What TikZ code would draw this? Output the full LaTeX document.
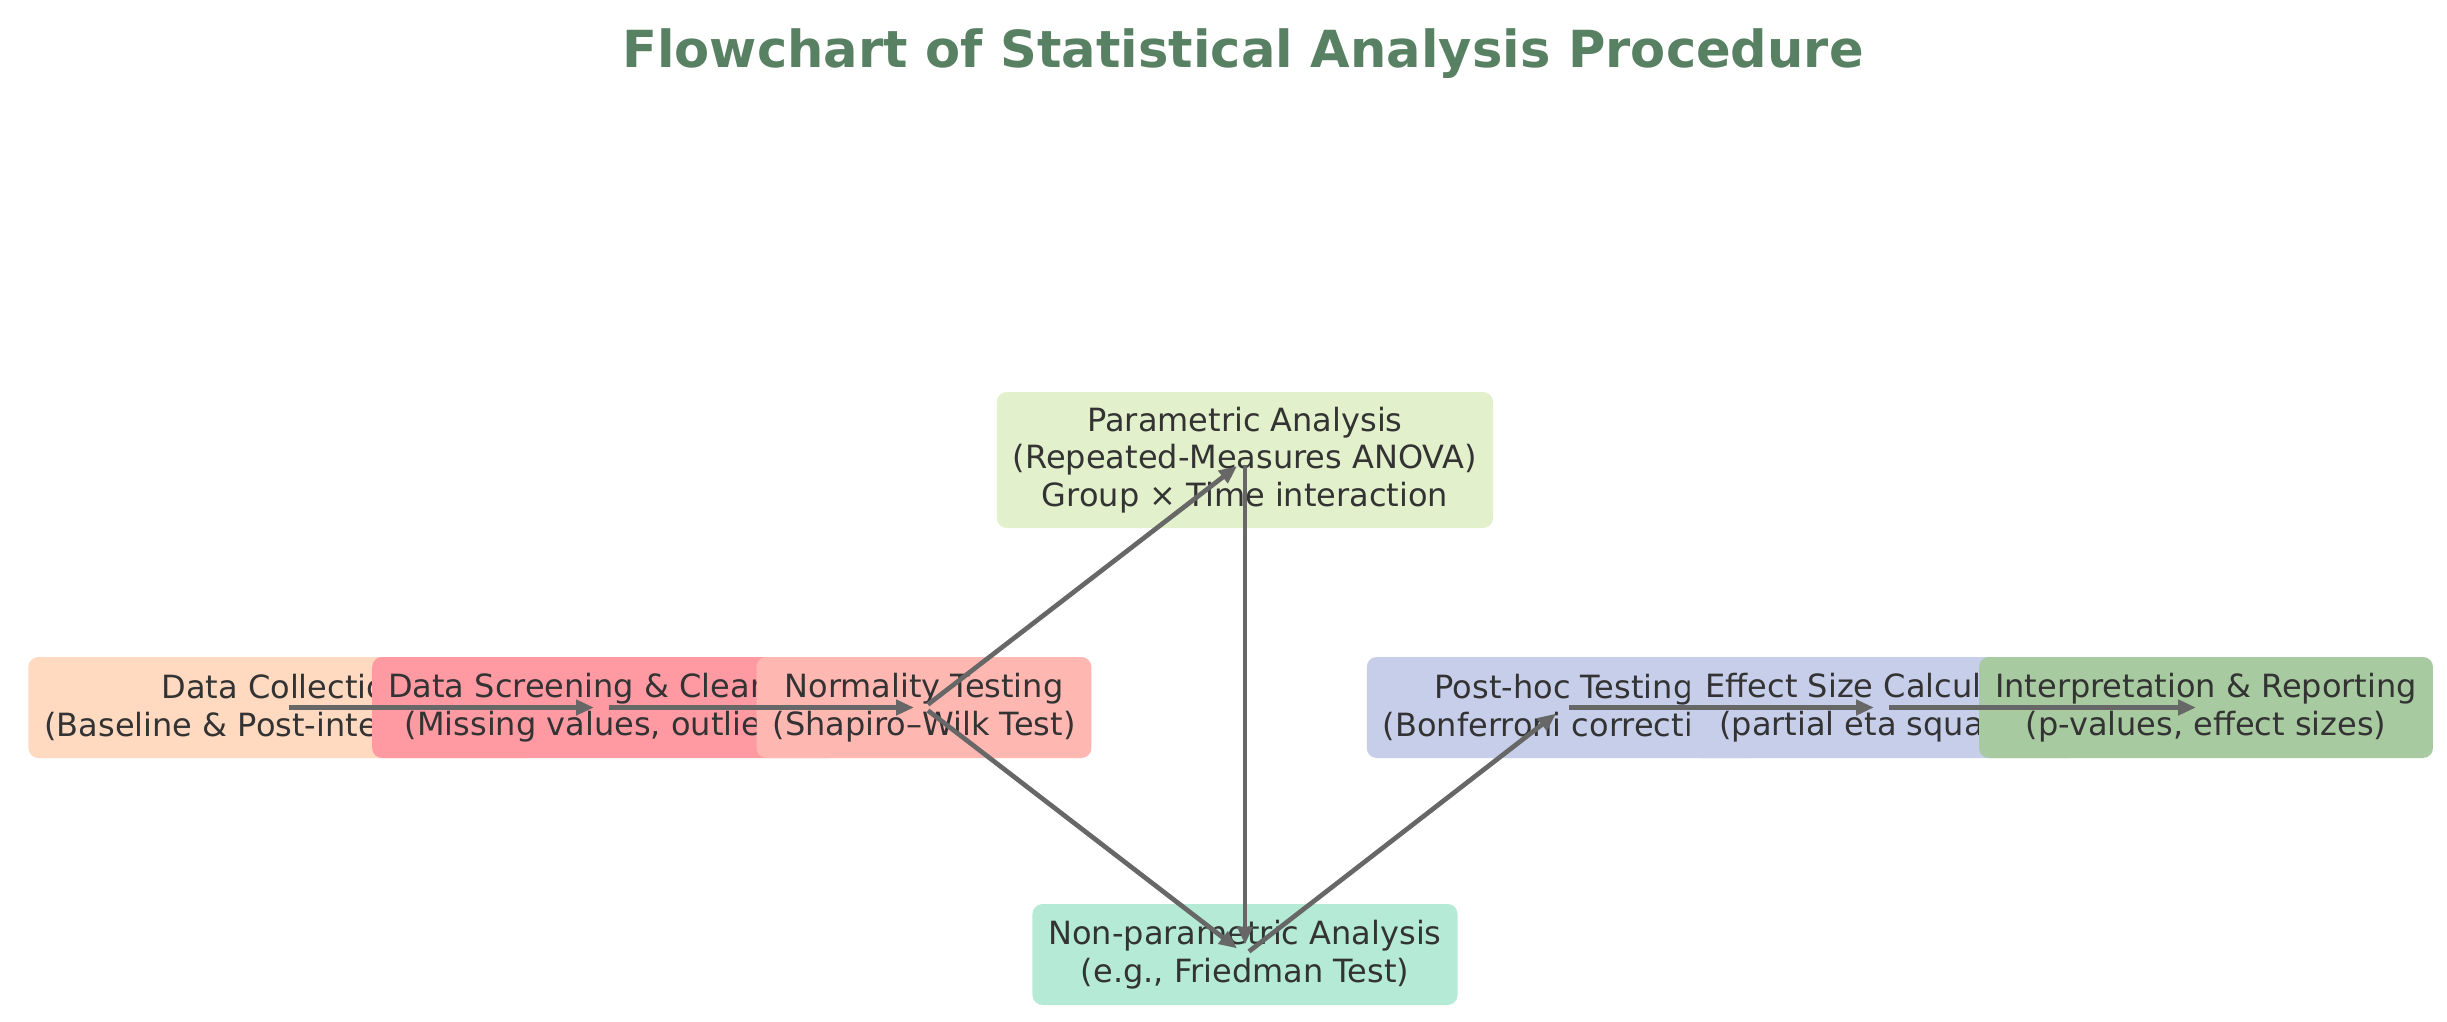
\documentclass[tikz,border=0pt]{standalone}
\usepackage{fontspec}
\setmainfont{DejaVu Sans}
\usetikzlibrary{arrows.meta}
\definecolor{cDC}{HTML}{FFDAC1}
\definecolor{cDS}{HTML}{FF9AA2}
\definecolor{cNT}{HTML}{FFB7B2}
\definecolor{cPA}{HTML}{E2F0CB}
\definecolor{cNP}{HTML}{B5EAD7}
\definecolor{cPH}{HTML}{C7CEEA}
\definecolor{cES}{HTML}{C7CEEA}
\definecolor{cIR}{HTML}{A8CAA0}
\definecolor{txtc}{HTML}{333333}
\definecolor{titlec}{HTML}{588062}
\definecolor{arrc}{HTML}{676767}
\begin{document}
\begin{tikzpicture}[x=0.5pt,y=-0.5pt,
  box/.style={rounded corners=5pt, inner xsep=8pt, inner ysep=0pt,
    minimum height=50.5pt, align=center, text=txtc,
    font=\fontsize{16}{18.75}\selectfont},
  arr/.style={draw=arrc, line width=2.35pt,
    -{Triangle[length=9pt,width=7.5pt]},
    shorten <=2.5pt, shorten >=5pt}]
\useasboundingbox (0,0) rectangle (2447,1022);
\fill[white] (0,0) rectangle (2447,1022);
\node[font=\fontsize{25.55}{30}\selectfont\bfseries, text=titlec, anchor=base, inner sep=0pt]
  (title) at (1243,68) {Flowchart of Statistical Analysis Procedure};
\node[box, fill=cDC] (dc) at (284,707.5) {Data Collection\\(Baseline \& Post-intervention)};
\node[box, fill=cDS] (ds) at (604,707.5) {Data Screening \& Cleaning\\(Missing values, outliers)};
\node[box, fill=cNT] (nt) at (924,707.5) {Normality Testing\\(Shapiro–Wilk Test)};
\node[box, fill=cPA, minimum height=68pt] (pa) at (1245,460) {Parametric Analysis\\(Repeated-Measures ANOVA)\\Group × Time interaction};
\node[box, fill=cNP] (np) at (1245,954.5) {Non-parametric Analysis\\(e.g., Friedman Test)};
\node[box, fill=cPH] (ph) at (1564,707.5) {Post-hoc Testing\\(Bonferroni correction)};
\node[box, fill=cES] (es) at (1884,707.5) {Effect Size Calculation\\(partial eta squared)};
\node[box, fill=cIR] (ir) at (2206,707.5) {Interpretation \& Reporting\\(p-values, effect sizes)};
\draw[arr] (dc.center) -- (ds.center);
\draw[arr] (ds.center) -- (nt.center);
\draw[arr] (nt.center) -- (pa.center);
\draw[arr] (nt.center) -- (np.center);
\draw[arr] (pa.center) -- (np.center);
\draw[arr] (np.center) -- (ph.center);
\draw[arr] (ph.center) -- (es.center);
\draw[arr] (es.center) -- (ir.center);
\end{tikzpicture}
\end{document}
